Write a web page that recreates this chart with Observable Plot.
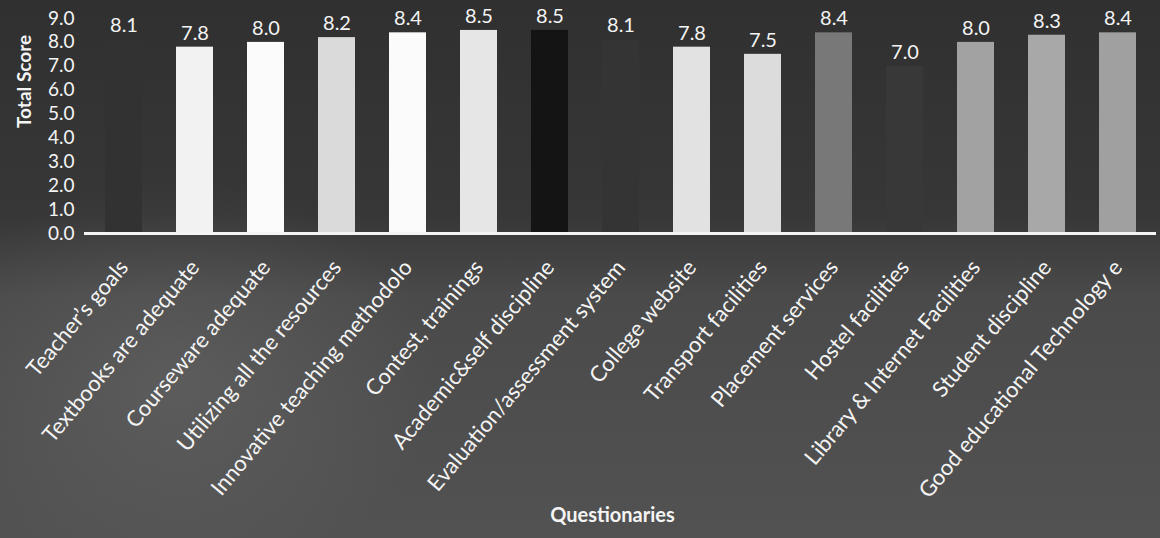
<!DOCTYPE html>
<html>
<head>
<meta charset="utf-8">
<script src="https://cdn.jsdelivr.net/npm/d3@7"></script>
<script src="https://cdn.jsdelivr.net/npm/@observablehq/plot@0.6"></script>
<style>
  html, body { margin: 0; padding: 0; }
  body {
    width: 1160px; height: 538px; overflow: hidden;
    background:
      radial-gradient(ellipse 260px 200px at 180px 380px, rgba(120,120,120,0.35), rgba(120,120,120,0) 100%),
      linear-gradient(180deg, #303030 0%, #373737 40%, #4a4a4a 55%, #525252 100%);
    font-family: Lato, "Open Sans", sans-serif;
  }
  #chart svg { display: block; background: transparent; }
</style>
</head>
<body>
<div id="chart"></div>
<script>
const categories = [
  "Teacher’s goals",
  "Textbooks are adequate",
  "Courseware adequate",
  "Utilizing all the resources",
  "Innovative teaching methodolo",
  "Contest, trainings",
  "Academic&self discipline",
  "Evaluation/assessment system",
  "College website",
  "Transport facilities",
  "Placement services",
  "Hostel facilities",
  "Library & Internet Facilities",
  "Student discipline",
  "Good educational Technology e"
];
const scores = [8.1, 7.8, 8.0, 8.2, 8.4, 8.5, 8.5, 8.1, 7.8, 7.5, 8.4, 7.0, 8.0, 8.3, 8.4];
const barFills = ["#323232", "#f2f2f2", "#fbfbfb", "#dadada", "#fbfbfb", "#e6e6e6", "#141414", "#343434",
                  "#e2e2e2", "#dcdcdc", "#787878", "#383838", "#a2a2a2", "#a8a8a8", "#a0a0a0"];
const yTicks = [0, 1, 2, 3, 4, 5, 6, 7, 8, 9];

const data = categories.map((q, i) => ({q, score: scores[i]}));

const chart = Plot.plot({
  width: 1160,
  height: 538,
  marginLeft: 84,
  marginRight: 4,
  marginTop: 18,
  marginBottom: 305,
  style: {background: "transparent", color: "#f4f4f4", fontFamily: "Lato, 'Open Sans', sans-serif"},
  x: {domain: categories, paddingInner: 0.48, paddingOuter: 0.24, label: null},
  y: {domain: [0, 9], label: null},
  color: {type: "ordinal", domain: categories, range: barFills},
  marks: [
    Plot.barY(data, {x: "q", y: "score", fill: "q"}),
    Plot.ruleY([0], {stroke: "#f4f4f4", strokeWidth: 3}),
    Plot.text(data, {x: "q", y: "score", text: d => d.score.toFixed(1), dy: -14,
      fill: "#f4f4f4", fontSize: 20}),
    Plot.axisY({ticks: yTicks, tickFormat: d => d.toFixed(1), tickSize: 0, tickPadding: 10,
      fontSize: 19, fill: "#f4f4f4", label: null}),
    Plot.axisX({tickRotate: -50, tickSize: 0, tickPadding: 30, fontSize: 22,
      fill: "#f4f4f4", label: null}),
    Plot.text(["Total Score"], {frameAnchor: "left", dx: -60, dy: 2, rotate: -90,
      fontWeight: "bold", fontSize: 19, fill: "#f4f4f4"}),
    Plot.text(["Questionaries"], {frameAnchor: "bottom", dx: -8, dy: 288,
      fontWeight: "bold", fontSize: 20, fill: "#f4f4f4"})
  ]
});
document.getElementById("chart").appendChild(chart);
</script>
</body>
</html>
